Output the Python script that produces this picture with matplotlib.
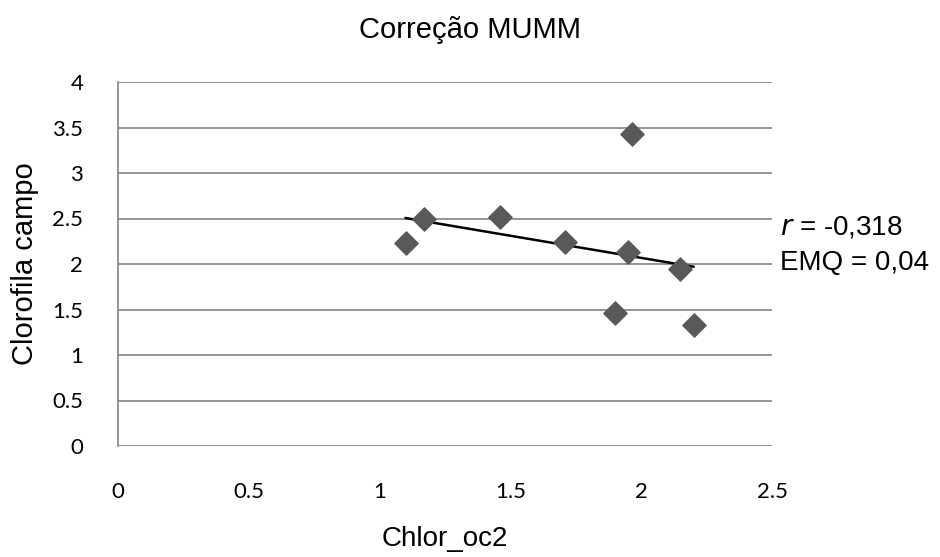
import matplotlib.pyplot as plt
import numpy as np

# field chlorophyll vs Chlor_oc2 (MUMM correction)
chlor_oc2 = [1.10, 1.17, 1.46, 1.71, 1.95, 2.15, 1.90, 2.20, 1.965]
clorofila = [2.23, 2.49, 2.52, 2.24, 2.13, 1.94, 1.46, 1.33, 3.43]

x_ticks = [0, 0.5, 1, 1.5, 2, 2.5]
y_ticks = [0, 0.5, 1, 1.5, 2, 2.5, 3, 3.5, 4]

fig = plt.figure(figsize=(9.4, 5.57), dpi=100)
ax = fig.add_axes([118/940, 1 - 446/557, (772-118)/940, (446-82)/557])

# linear trend line over the data range
a, b = np.polyfit(chlor_oc2, clorofila, 1)
xs = np.array([min(chlor_oc2), max(chlor_oc2)])
ax.plot(xs, a*xs + b, color="black", lw=1.8, zorder=2)

ax.scatter(chlor_oc2, clorofila, marker="D", s=140, color="#595959", zorder=3)

ax.set_xlim(0, 2.5)
ax.set_ylim(0, 4)
ax.set_xticks(x_ticks)
ax.set_yticks(y_ticks)
ax.set_xticklabels([str(t) for t in x_ticks], fontsize=16, family="Lato")
ax.set_yticklabels([str(t) for t in y_ticks], fontsize=16, family="Lato")
ax.tick_params(length=0)
ax.tick_params(axis="y", pad=25)
ax.tick_params(axis="x", pad=26)
ax.grid(axis="y", color="#8c8c8c", lw=1.3)
ax.set_axisbelow(True)
for s in ["top", "right"]:
    ax.spines[s].set_visible(False)
ax.spines["bottom"].set_visible(False)
ax.spines["left"].set_color("#8c8c8c")
ax.spines["left"].set_linewidth(1.3)

fig.text(470/940, 1 - 30/557, "Correção MUMM", ha="center", va="center",
         fontsize=21, family="Liberation Sans")
fig.text(445/940, 1 - 539/557, "Chlor_oc2", ha="center", va="center",
         fontsize=20, family="Liberation Sans")
fig.text(25/940, 1 - 264/557, "Clorofila campo", ha="center", va="center",
         rotation=90, fontsize=21, family="Liberation Sans")
fig.text(780/940, 1 - 228/557, r"$\it{r}$ = -0,318", ha="left", va="center",
         fontsize=20, family="Liberation Sans")
fig.text(780/940, 1 - 263/557, "EMQ = 0,04", ha="left", va="center",
         fontsize=20, family="Liberation Sans")

plt.savefig("out.png", dpi=100)
